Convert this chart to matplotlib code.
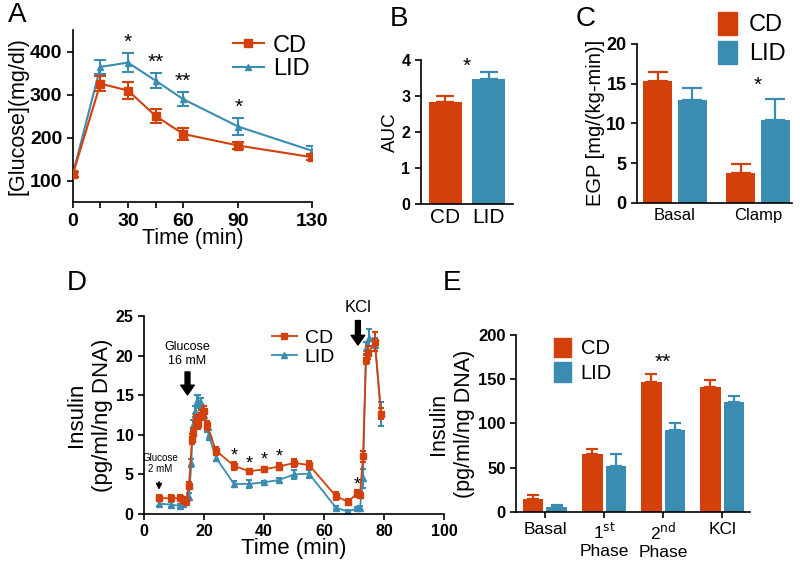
import numpy as np
import matplotlib.pyplot as plt
from matplotlib.patches import Patch
from matplotlib.lines import Line2D

plt.rcParams['font.family'] = ['Liberation Sans', 'DejaVu Sans']

CD_COL = '#D4400A'
LID_COL = '#3A8CB0'

# Panel A: glucose tolerance
a_time = [0, 15, 30, 45, 60, 90, 130]
a_cd = [115, 326, 310, 251, 209, 182, 155]
a_cd_err = [6, 18, 20, 16, 13, 9, 7]
a_lid = [115, 365, 375, 333, 290, 226, 170]
a_lid_err = [6, 17, 22, 18, 17, 20, 10]
a_stars = {30: '*', 45: '**', 60: '**', 90: '*'}

# Panel B: AUC
b_groups = ['CD', 'LID']
b_vals = [2.83, 3.48]
b_err = [0.17, 0.2]

# Panel C: EGP
c_groups = ['Basal', 'Clamp']
c_cd = [15.3, 3.7]
c_cd_err = [1.1, 1.2]
c_lid = [13.0, 10.4]
c_lid_err = [1.4, 2.7]

# Panel D: perifusion time course
d_cd_t = [5, 9, 12, 13, 14, 15, 16, 16.4, 17.3, 18, 19, 20, 21, 24, 30, 35, 40, 45,
          50, 55, 64, 68, 71, 72, 73, 74, 74.8, 77, 79]
d_cd = [2.0, 2.0, 2.0, 1.8, 1.6, 3.6, 9.5, 10.3, 11.9, 11.4, 12.5, 13.0, 11.2, 8.0,
        6.1, 5.4, 5.65, 6.0, 6.45, 6.2, 2.25, 1.55, 2.6, 2.4, 7.3, 19.5, 20.4, 21.8, 12.7]
d_cd_err = [0.4, 0.4, 0.4, 0.4, 0.4, 0.4, 0.6, 0.6, 0.6, 0.6, 0.6, 0.7, 0.6, 0.5,
            0.5, 0.3, 0.3, 0.4, 0.5, 0.5, 0.5, 0.4, 0.4, 0.4, 0.7, 0.6, 0.8, 1.2, 0.7]
d_lid_t = [5, 9, 12, 13, 14, 15, 15.8, 16.2, 17, 17.5, 18, 19, 20, 21, 21.5, 24, 30,
           35, 40, 45, 50, 55, 64, 68, 71, 72, 73, 74, 75, 77, 79]
d_lid = [1.3, 1.2, 1.0, 1.3, 1.5, 2.2, 6.5, 11.3, 13.0, 14.3, 14.2, 14.0, 12.5, 11.0,
         10.0, 7.1, 3.8, 3.8, 4.0, 4.3, 5.0, 5.1, 0.8, 0.3, 0.7, 0.8, 4.5, 21.0, 22.3,
         21.4, 12.6]
d_lid_err = [0.3, 0.3, 0.3, 0.3, 0.3, 0.4, 0.5, 0.6, 0.7, 0.8, 0.8, 0.7, 0.6, 0.6,
             0.6, 0.4, 0.4, 0.5, 0.2, 0.3, 0.6, 0.5, 0.2, 0.2, 0.2, 0.2, 1.2, 0.8, 1.1,
             0.8, 1.5]
d_stars_t = [30, 35, 40, 45, 71]
d_stars_y = [7.3, 6.3, 6.8, 7.2, 3.7]

# Panel E: insulin phases
e_groups = ['Basal', '1$^{\\mathrm{st}}$\nPhase', '2$^{\\mathrm{nd}}$\nPhase', 'KCl']
e_cd = [14.3, 65.8, 147, 140.7]
e_cd_err = [4.5, 5.5, 9, 8.5]
e_lid = [5.3, 52, 92.5, 124]
e_lid_err = [2.5, 13, 7.5, 6.5]


def style_ax(ax, tick_size):
    for s in ['top', 'right']:
        ax.spines[s].set_visible(False)
    for s in ['left', 'bottom']:
        ax.spines[s].set_linewidth(1.2)
    ax.tick_params(direction='out', width=1.2, length=4, labelsize=tick_size)
    for lab in ax.get_yticklabels():
        lab.set_fontweight('bold')


fig = plt.figure(figsize=(8, 5.62), dpi=100)

# ---- A
ax = fig.add_axes([0.091, 0.640, 0.299, 0.306])
ax.errorbar(a_time, a_lid, yerr=a_lid_err, color=LID_COL, marker='^', ms=5,
            lw=1.5, capsize=4, elinewidth=1.5, capthick=1.5, label='LID', zorder=2)
ax.errorbar(a_time, a_cd, yerr=a_cd_err, color=CD_COL, marker='s', ms=6,
            lw=1.5, capsize=4, elinewidth=1.5, capthick=1.5, label='CD', zorder=3)
for t, s in a_stars.items():
    i = a_time.index(t)
    ax.text(t, a_lid[i] + a_lid_err[i] + 2, s, ha='center', va='bottom', fontsize=15)
ax.set_xlim(0, 130)
ax.set_ylim(50, 450)
ax.set_xticks(a_time)
ax.set_xticklabels(['0', '', '30', '', '60', '90', '130'])
ax.set_yticks([100, 200, 300, 400])
style_ax(ax, 14)
for lab in ax.get_xticklabels():
    lab.set_fontweight('bold')
ax.set_xlabel('Time (min)', fontsize=15.5, labelpad=-1)
ax.set_ylabel('[Glucose](mg/dl)', fontsize=15.5, labelpad=1)
handles = [Line2D([], [], color=CD_COL, marker='s', ms=6, lw=1.5),
           Line2D([], [], color=LID_COL, marker='^', ms=5, lw=1.5)]
ax.legend(handles, ['CD', 'LID'], loc='upper right', bbox_to_anchor=(1.03, 1.03),
          frameon=False, fontsize=17, handlelength=1.3, handletextpad=0.4,
          labelspacing=0.05, borderaxespad=0)
fig.text(0.010, 0.997, 'A', fontsize=20, va='top')

# ---- B
ax = fig.add_axes([0.526, 0.637, 0.115, 0.256])
xb = np.arange(len(b_groups))
ax.bar(xb, b_vals, width=0.76, color=[CD_COL, LID_COL])
for x, v, e, c in zip(xb, b_vals, b_err, [CD_COL, LID_COL]):
    ax.errorbar(x, v, yerr=[[0], [e]], color=c, elinewidth=1.6, capsize=6.5,
                capthick=1.6, fmt='none')
ax.text(0.5, 3.55, '*', ha='center', va='bottom', fontsize=15)
ax.set_xlim(-0.56, 1.55)
ax.set_ylim(0, 4)
ax.set_xticks(xb)
ax.set_xticklabels(b_groups)
style_ax(ax, 11.5)
ax.tick_params(axis='x', length=0, labelsize=15, pad=3)
ax.set_ylabel('AUC', fontsize=13.5, labelpad=2)
fig.text(0.487, 0.99, 'B', fontsize=20, va='top')

# ---- C
ax = fig.add_axes([0.796, 0.639, 0.194, 0.283])
xc = np.arange(len(c_groups))
w = 0.35
ax.bar(xc - 0.207, c_cd, width=w, color=CD_COL)
ax.bar(xc + 0.207, c_lid, width=w, color=LID_COL)
ax.errorbar(xc - 0.207, c_cd, yerr=[[0, 0], c_cd_err], color=CD_COL, fmt='none',
            elinewidth=1.6, capsize=7, capthick=1.6)
ax.errorbar(xc + 0.207, c_lid, yerr=[[0, 0], c_lid_err], color=LID_COL, fmt='none',
            elinewidth=1.6, capsize=7, capthick=1.6)
ax.text(1.0, 13.6, '*', ha='center', va='bottom', fontsize=15)
ax.set_xlim(-0.46, 1.41)
ax.set_ylim(0, 20)
ax.set_xticks(xc)
ax.set_xticklabels(c_groups)
ax.set_yticks([0, 5, 10, 15, 20])
style_ax(ax, 13)
ax.tick_params(axis='x', length=0, labelsize=12, pad=4)
ax.set_ylabel('EGP [mg/(kg-min)]', fontsize=14.5, labelpad=1)
ax.legend([Patch(color=CD_COL), Patch(color=LID_COL)], ['CD', 'LID'],
          loc='upper right', bbox_to_anchor=(1.02, 1.26), frameon=False, fontsize=17,
          handlelength=0.8, handleheight=1.1, handletextpad=0.5, labelspacing=0.2,
          borderaxespad=0)
fig.text(0.719, 0.99, 'C', fontsize=20, va='top')

# ---- D
ax = fig.add_axes([0.18, 0.0854, 0.375, 0.352])
ax.errorbar(d_lid_t, d_lid, yerr=d_lid_err, color=LID_COL, marker='^', ms=4,
            lw=1.3, capsize=2.5, elinewidth=1.5, capthick=1.5, label='LID', zorder=2)
ax.errorbar(d_cd_t, d_cd, yerr=d_cd_err, color=CD_COL, marker='s', ms=5,
            lw=1.3, capsize=2.5, elinewidth=1.5, capthick=1.5, label='CD', zorder=3)
for t, y in zip(d_stars_t, d_stars_y):
    ax.text(t, y, '*', ha='center', va='center', fontsize=13)
ax.annotate('', xy=(5, 2.7), xytext=(5, 4.4),
            arrowprops=dict(arrowstyle='-|>', color='black', lw=1.2, mutation_scale=8))
ax.text(5.5, 5.0, 'Glucose\n2 mM', ha='center', va='bottom', fontsize=7,
        linespacing=1.2)
ax.annotate('', xy=(14.5, 14.7), xytext=(14.5, 18.3),
            arrowprops=dict(arrowstyle='simple,head_width=0.7,tail_width=0.25',
                            color='black', mutation_scale=14))
ax.text(14.5, 18.6, 'Glucose\n16 mM', ha='center', va='bottom', fontsize=9,
        linespacing=1.2)
ax.annotate('', xy=(71.3, 21.0), xytext=(71.3, 24.8),
            arrowprops=dict(arrowstyle='simple,head_width=0.7,tail_width=0.25',
                            color='black', mutation_scale=14), annotation_clip=False)
ax.text(71.3, 25.1, 'KCl', ha='center', va='bottom', fontsize=12, clip_on=False)
ax.set_xlim(0, 100)
ax.set_ylim(0, 25)
ax.set_xticks([0, 20, 40, 60, 80, 100])
ax.set_yticks([0, 5, 10, 15, 20, 25])
style_ax(ax, 11.5)
for lab in ax.get_xticklabels():
    lab.set_fontweight('bold')
ax.set_xlabel('Time (min)', fontsize=16, labelpad=-1)
ax.set_ylabel('Insulin\n(pg/ml/ng DNA)', fontsize=16, labelpad=2, linespacing=1.3)
handles = [Line2D([], [], color=CD_COL, marker='s', ms=5, lw=1.3),
           Line2D([], [], color=LID_COL, marker='^', ms=4, lw=1.3)]
ax.legend(handles, ['CD', 'LID'], loc='upper left', bbox_to_anchor=(0.4, 0.975),
          frameon=False, fontsize=14, handlelength=1.3, handletextpad=0.4,
          labelspacing=0.1, borderaxespad=0)
fig.text(0.084, 0.52, 'D', fontsize=20, va='top')

# ---- E
ax = fig.add_axes([0.645, 0.089, 0.2925, 0.315])
xe = np.arange(len(e_groups))
w = 0.35
ax.bar(xe - 0.2, e_cd, width=w, color=CD_COL)
ax.bar(xe + 0.2, e_lid, width=w, color=LID_COL)
ax.errorbar(xe - 0.2, e_cd, yerr=[[0] * 4, e_cd_err], color=CD_COL, fmt='none',
            elinewidth=1.6, capsize=4.5, capthick=1.6)
ax.errorbar(xe + 0.2, e_lid, yerr=[[0] * 4, e_lid_err], color=LID_COL, fmt='none',
            elinewidth=1.6, capsize=4.5, capthick=1.6)
ax.text(2.0, 158, '**', ha='center', va='bottom', fontsize=15)
ax.set_xlim(-0.49, 3.47)
ax.set_ylim(0, 200)
ax.set_xticks(xe)
ax.set_xticklabels(e_groups)
ax.set_yticks([0, 50, 100, 150, 200])
style_ax(ax, 12)
ax.tick_params(axis='x', labelsize=12.5, pad=3)
ax.set_ylabel('Insulin\n(pg/ml/ng DNA)', fontsize=15.5, labelpad=2, linespacing=1.3)
ax.legend([Patch(color=CD_COL), Patch(color=LID_COL)], ['CD', 'LID'],
          loc='upper left', bbox_to_anchor=(0.13, 1.03), frameon=False, fontsize=14.5,
          handlelength=0.8, handleheight=1.1, handletextpad=0.5, labelspacing=0.2,
          borderaxespad=0)
fig.text(0.553, 0.52, 'E', fontsize=20, va='top')

fig.savefig('out.png', dpi=100)
